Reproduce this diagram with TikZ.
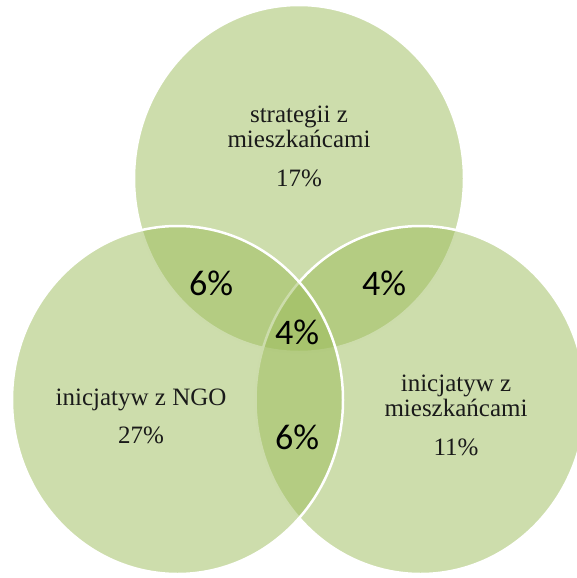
\documentclass[tikz,border=0pt]{standalone}
\usepackage{fontspec}
\setmainfont{Liberation Serif}
\newfontfamily\numfont{Carlito}
\definecolor{venngreen}{HTML}{9BBB59}
\definecolor{labeltext}{HTML}{1A1A1A}
\tikzset{
  venn/.style={fill=venngreen, fill opacity=0.5, draw=white, line width=2.5pt},
  setlabel/.style={align=center, text=labeltext, font=\fontsize{25}{25}\selectfont, inner sep=0pt},
  overlaplabel/.style={text=black, font=\numfont\fontsize{36}{36}\selectfont, inner sep=0pt}
}
\begin{document}
\begin{tikzpicture}[x=1pt,y=-1pt]
\useasboundingbox (0,0) rectangle (577,578);
\clip (0,0) rectangle (577,578);
% circles: top, right, left (drawing order)
\path[venn] (299,178.5) ellipse [x radius=165pt, y radius=173.5pt];
\path[venn] (420.5,400) ellipse [x radius=165pt, y radius=174pt];
\path[venn] (177.5,400) ellipse [x radius=165.5pt, y radius=174pt];
% set labels
\node[setlabel] (top) at (299,146) {strategii z\\mieszkańcami\\[14pt]17\%};
\node[setlabel] (left) at (141,416) {inicjatyw z NGO\\[13pt]27\%};
\node[setlabel] (right) at (456,415) {inicjatyw z\\mieszkańcami\\[14pt]11\%};
% overlap labels
\node[overlaplabel] (tl) at (211,283) {6\%};
\node[overlaplabel] (tr) at (384,283) {4\%};
\node[overlaplabel] (mid) at (297,332) {4\%};
\node[overlaplabel] (bot) at (297,437) {6\%};
\end{tikzpicture}
\end{document}
